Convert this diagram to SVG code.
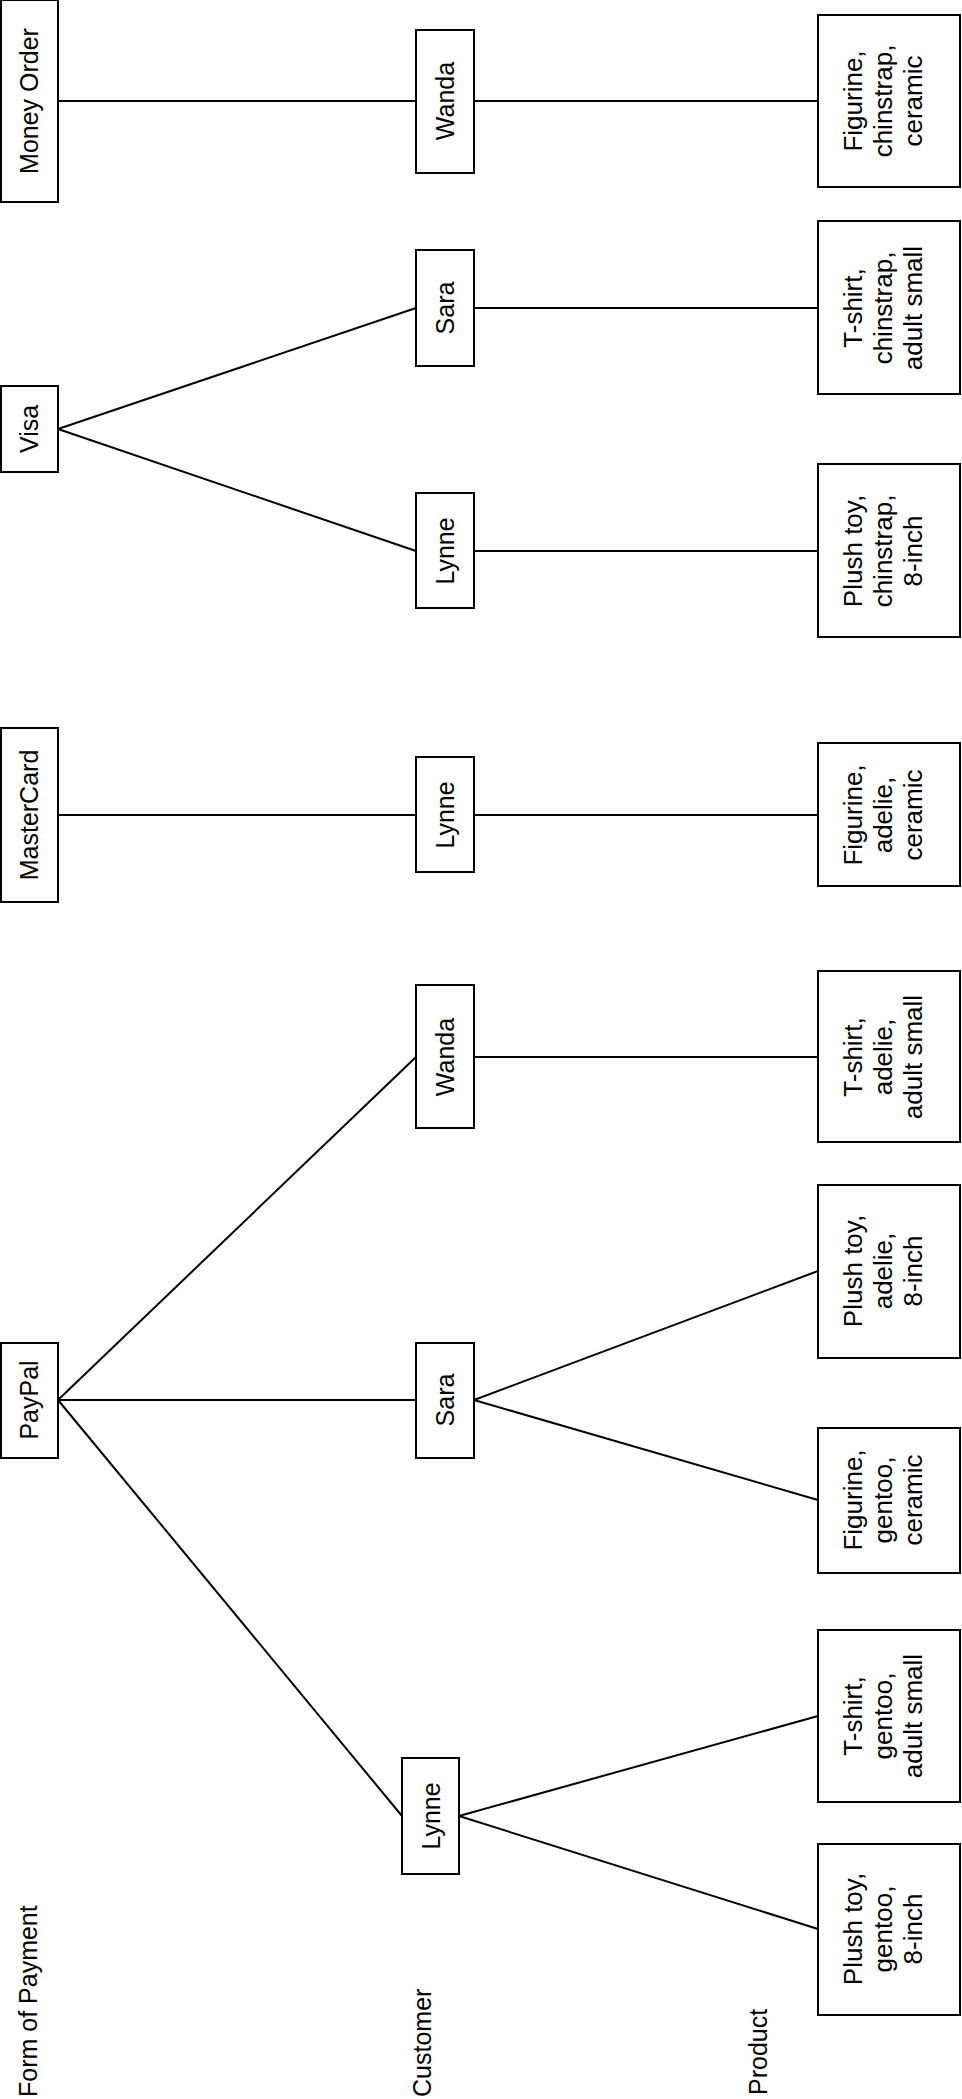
<svg xmlns="http://www.w3.org/2000/svg" width="962" height="2099" viewBox="0 0 962 2099">
<style>
rect{fill:#fff;stroke:#000;stroke-width:2}
line{stroke:#000;stroke-width:2}
text{font-family:"Liberation Sans",Arial,sans-serif;font-size:25px;fill:#000}
.c{text-anchor:middle}
.p{font-size:26px}
</style>
<rect x="0" y="0" width="962" height="2099" style="stroke:none"/>
<g id="connectors">
<line x1="58" y1="101" x2="416" y2="101"/>
<line x1="474" y1="101" x2="818" y2="101"/>
<line x1="58" y1="429" x2="416" y2="308"/>
<line x1="58" y1="429" x2="416" y2="551"/>
<line x1="474" y1="308" x2="818" y2="308"/>
<line x1="474" y1="551" x2="818" y2="551"/>
<line x1="58" y1="815" x2="416" y2="815"/>
<line x1="474" y1="815" x2="818" y2="815"/>
<line x1="58" y1="1400" x2="416" y2="1057"/>
<line x1="474" y1="1057" x2="818" y2="1057"/>
<line x1="58" y1="1400" x2="416" y2="1400"/>
<line x1="58" y1="1400" x2="402" y2="1816"/>
<line x1="474" y1="1400" x2="818" y2="1271"/>
<line x1="474" y1="1400" x2="818" y2="1500"/>
<line x1="459" y1="1816" x2="818" y2="1716"/>
<line x1="459" y1="1816" x2="818" y2="1929"/>
</g>
<g id="labels">
<text transform="translate(37,2097) rotate(-90)">Form of Payment</text>
<text transform="translate(431,2097) rotate(-90)">Customer</text>
<text transform="translate(767,2095) rotate(-90)">Product</text>
</g>
<g id="pay-moneyorder"><rect x="1" y="0" width="57" height="202"/><text class="c" transform="translate(29,101) rotate(-90)" y="9">Money Order</text></g>
<g id="pay-visa"><rect x="1" y="386" width="57" height="86"/><text class="c" transform="translate(29,429) rotate(-90)" y="9">Visa</text></g>
<g id="pay-mastercard"><rect x="1" y="728" width="57" height="174"/><text class="c" transform="translate(29,815) rotate(-90)" y="9">MasterCard</text></g>
<g id="pay-paypal"><rect x="1" y="1343" width="57" height="115"/><text class="c" transform="translate(29,1400) rotate(-90)" y="9">PayPal</text></g>
<g id="cust-wanda1"><rect x="416" y="30" width="58" height="143"/><text class="c" transform="translate(445,101) rotate(-90)" y="9">Wanda</text></g>
<g id="cust-sara1"><rect x="416" y="250" width="58" height="116"/><text class="c" transform="translate(445,308) rotate(-90)" y="9">Sara</text></g>
<g id="cust-lynne1"><rect x="416" y="493" width="58" height="115"/><text class="c" transform="translate(445,551) rotate(-90)" y="9">Lynne</text></g>
<g id="cust-lynne2"><rect x="416" y="757" width="58" height="115"/><text class="c" transform="translate(445,815) rotate(-90)" y="9">Lynne</text></g>
<g id="cust-wanda2"><rect x="416" y="985" width="58" height="143"/><text class="c" transform="translate(445,1057) rotate(-90)" y="9">Wanda</text></g>
<g id="cust-sara2"><rect x="416" y="1343" width="58" height="115"/><text class="c" transform="translate(445,1400) rotate(-90)" y="9">Sara</text></g>
<g id="cust-lynne3"><rect x="402" y="1758" width="57" height="116"/><text class="c" transform="translate(430.5,1816) rotate(-90)" y="9">Lynne</text></g>
<g id="prod-1"><rect x="818" y="15" width="142" height="172"/><text class="c p" transform="translate(889,101) rotate(-90)"><tspan x="0" y="-27">Figurine,</tspan><tspan x="0" y="3">chinstrap,</tspan><tspan x="0" y="33">ceramic</tspan></text></g>
<g id="prod-2"><rect x="818" y="221" width="142" height="173"/><text class="c p" transform="translate(889,308) rotate(-90)"><tspan x="0" y="-27">T-shirt,</tspan><tspan x="0" y="3">chinstrap,</tspan><tspan x="0" y="33">adult small</tspan></text></g>
<g id="prod-3"><rect x="818" y="464" width="142" height="173"/><text class="c p" transform="translate(889,551) rotate(-90)"><tspan x="0" y="-27">Plush toy,</tspan><tspan x="0" y="3">chinstrap,</tspan><tspan x="0" y="33">8-inch</tspan></text></g>
<g id="prod-4"><rect x="818" y="743" width="142" height="143"/><text class="c p" transform="translate(889,815) rotate(-90)"><tspan x="0" y="-27">Figurine,</tspan><tspan x="0" y="3">adelie,</tspan><tspan x="0" y="33">ceramic</tspan></text></g>
<g id="prod-5"><rect x="818" y="971" width="142" height="171"/><text class="c p" transform="translate(889,1057) rotate(-90)"><tspan x="0" y="-27">T-shirt,</tspan><tspan x="0" y="3">adelie,</tspan><tspan x="0" y="33">adult small</tspan></text></g>
<g id="prod-6"><rect x="818" y="1185" width="142" height="173"/><text class="c p" transform="translate(889,1271) rotate(-90)"><tspan x="0" y="-27">Plush toy,</tspan><tspan x="0" y="3">adelie,</tspan><tspan x="0" y="33">8-inch</tspan></text></g>
<g id="prod-7"><rect x="818" y="1428" width="142" height="145"/><text class="c p" transform="translate(889,1500) rotate(-90)"><tspan x="0" y="-27">Figurine,</tspan><tspan x="0" y="3">gentoo,</tspan><tspan x="0" y="33">ceramic</tspan></text></g>
<g id="prod-8"><rect x="818" y="1630" width="142" height="172"/><text class="c p" transform="translate(889,1716) rotate(-90)"><tspan x="0" y="-27">T-shirt,</tspan><tspan x="0" y="3">gentoo,</tspan><tspan x="0" y="33">adult small</tspan></text></g>
<g id="prod-9"><rect x="818" y="1844" width="142" height="171"/><text class="c p" transform="translate(889,1929) rotate(-90)"><tspan x="0" y="-27">Plush toy,</tspan><tspan x="0" y="3">gentoo,</tspan><tspan x="0" y="33">8-inch</tspan></text></g>
</svg>
